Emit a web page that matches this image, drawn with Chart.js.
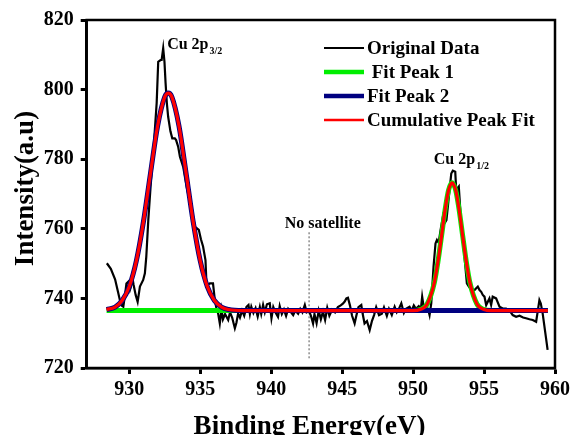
<!DOCTYPE html>
<html>
<head>
<meta charset="utf-8">
<script src="https://cdn.jsdelivr.net/npm/chart.js@4.4.1/dist/chart.umd.min.js"></script>
<style>
  html, body { margin: 0; padding: 0; background: #fff; }
  #wrap { width: 574px; height: 435px; position: relative; }
</style>
</head>
<body>
<div id="wrap"><canvas id="xps"></canvas></div>
<script>
// tick labels
var xTicks = [930, 935, 940, 945, 950, 955, 960];
var yTicks = [720, 740, 760, 780, 800, 820];

// original data (binding energy / intensity)
var rawEnergy = [928.42, 928.7, 929.0, 929.2, 929.34, 929.5, 929.58, 929.7, 929.8, 929.93, 930.05, 930.12, 930.21, 930.3, 930.45, 930.59, 930.75, 930.98, 931.1, 931.2, 931.34, 931.5, 931.69, 931.93, 932.04, 932.2, 932.28, 932.39, 932.48, 932.56, 932.65, 932.74, 932.9, 933.03, 933.21, 933.3, 933.45, 933.57, 933.8, 934.04, 934.2, 934.39, 934.5, 934.62, 934.9, 935.05, 935.2, 935.37, 935.44, 935.55, 935.68, 935.9, 936.03, 936.15, 936.26, 936.38, 936.5, 936.6, 936.75, 936.97, 937.1, 937.25, 937.44, 937.55, 937.67, 937.8, 937.95, 938.1, 938.26, 938.4, 938.5, 938.6, 938.75, 938.9, 939.05, 939.2, 939.3, 939.43, 939.55, 939.7, 939.9, 940.02, 940.15, 940.3, 940.48, 940.6, 940.75, 940.9, 941.05, 941.2, 941.4, 941.55, 941.7, 941.9, 942.05, 942.2, 942.37, 942.5, 942.67, 942.8, 942.95, 943.05, 943.2, 943.35, 943.5, 943.65, 943.8, 943.95, 944.1, 944.3, 944.5, 944.7, 944.9, 945.05, 945.18, 945.3, 945.41, 945.55, 945.7, 945.88, 946.0, 946.15, 946.35, 946.45, 946.58, 946.75, 946.94, 947.1, 947.25, 947.4, 947.6, 947.8, 947.95, 948.15, 948.3, 948.5, 948.7, 948.85, 949.0, 949.17, 949.35, 949.5, 949.75, 949.9, 950.05, 950.2, 950.4, 950.55, 950.64, 950.75, 950.9, 951.05, 951.16, 951.28, 951.44, 951.58, 951.68, 951.8, 951.95, 952.1, 952.22, 952.35, 952.45, 952.57, 952.69, 952.8, 952.97, 953.04, 953.22, 953.39, 953.62, 953.79, 953.93, 954.1, 954.33, 954.56, 954.68, 954.8, 954.91, 955.03, 955.15, 955.38, 955.5, 955.61, 955.85, 956.09, 956.32, 956.55, 956.8, 957.02, 957.26, 957.5, 957.75, 957.96, 958.2, 958.43, 958.67, 958.78, 958.9, 959.0, 959.13, 959.37, 959.48];
var rawIntensity = [750.1, 748.5, 745.5, 742.0, 739.5, 737.8, 737.6, 741.0, 744.3, 744.8, 742.5, 743.4, 746.2, 744.0, 741.0, 739.0, 743.4, 745.3, 747.2, 752.0, 762.5, 772.0, 781.7, 796.1, 808.0, 808.5, 808.5, 811.9, 808.0, 801.8, 796.0, 792.2, 788.0, 786.0, 786.0, 785.5, 783.5, 780.7, 777.8, 772.1, 769.0, 766.4, 763.5, 760.6, 759.7, 757.0, 754.9, 751.0, 744.3, 744.0, 744.3, 744.3, 739.5, 737.0, 735.7, 732.8, 736.7, 734.0, 735.5, 733.8, 736.0, 734.5, 731.4, 733.0, 735.7, 734.5, 736.5, 735.0, 737.6, 738.1, 735.5, 737.6, 735.8, 737.2, 734.8, 737.5, 735.5, 738.1, 736.0, 738.3, 738.6, 734.3, 737.5, 736.0, 734.7, 737.8, 735.5, 736.8, 735.0, 737.0, 736.0, 735.2, 736.5, 735.6, 737.0, 736.0, 738.1, 736.0, 736.4, 735.0, 732.8, 735.5, 732.9, 736.5, 734.0, 736.2, 733.8, 737.3, 735.0, 736.8, 736.0, 737.5, 738.0, 738.5, 739.1, 740.0, 740.2, 738.0, 735.0, 732.8, 735.0, 737.5, 738.1, 735.5, 732.8, 733.5, 730.9, 733.5, 735.2, 737.5, 735.2, 735.6, 737.4, 735.0, 737.0, 735.2, 737.6, 736.0, 737.0, 738.6, 735.8, 737.0, 737.6, 736.5, 738.0, 737.0, 737.8, 737.0, 740.5, 737.5, 737.8, 737.0, 735.2, 738.6, 749.1, 755.8, 756.8, 756.0, 760.0, 763.5, 761.6, 762.5, 766.4, 771.1, 775.9, 776.7, 776.4, 771.1, 772.1, 761.6, 752.0, 744.3, 743.4, 742.5, 742.4, 743.4, 742.4, 741.9, 741.0, 740.5, 738.1, 740.0, 738.1, 740.5, 740.0, 737.6, 737.1, 737.1, 736.5, 735.2, 734.7, 735.0, 734.5, 734.3, 734.0, 733.8, 733.3, 736.2, 739.5, 738.5, 735.7, 728.5, 725.2];

var fitEnergy = [928.4, 929, 929.5, 930, 930.5, 931, 931.5, 932, 932.5, 932.75, 933, 933.5, 934, 934.5, 935, 935.5, 936, 936.5, 937, 938, 940, 945, 950, 950.5, 951, 951.5, 951.75, 952, 952.25, 952.5, 952.75, 953, 953.25, 953.5, 953.75, 954, 954.5, 955, 955.5, 957, 959.5];
var fitPeak1 = [736.5, 736.5, 736.5, 736.5, 736.5, 736.5, 736.5, 736.5, 736.5, 736.5, 736.5, 736.5, 736.5, 736.5, 736.5, 736.5, 736.5, 736.5, 736.5, 736.5, 736.5, 736.5, 736.5, 736.8, 738.4, 744.6, 750.5, 757.8, 765.3, 771.1, 773.2, 771.1, 765.3, 757.8, 750.5, 744.6, 738.4, 736.8, 736.5, 736.5, 736.5];
var fitPeak2 = [736.8, 737.5, 739.4, 743.4, 750.8, 762.1, 776.1, 789.6, 797.9, 799.0, 797.9, 789.6, 776.1, 762.1, 750.8, 743.4, 739.4, 737.5, 736.8, 736.5, 736.5, 736.5, 736.5, 736.5, 736.5, 736.5, 736.5, 736.5, 736.5, 736.5, 736.5, 736.5, 736.5, 736.5, 736.5, 736.5, 736.5, 736.5, 736.5, 736.5, 736.5];
var cumulativeFit = [736.8, 737.5, 739.4, 743.4, 750.8, 762.1, 776.1, 789.6, 797.9, 799.0, 797.9, 789.6, 776.1, 762.1, 750.8, 743.4, 739.4, 737.5, 736.8, 736.5, 736.5, 736.5, 736.5, 736.8, 738.4, 744.6, 750.5, 757.8, 765.3, 771.1, 773.2, 771.1, 765.3, 757.8, 750.5, 744.6, 738.4, 736.8, 736.5, 736.5, 736.5];

// "No satellite" marker line
var satEnergy = [942.67, 942.67];
var satIntensity = [759, 722.6];

var serif = "'Liberation Serif', 'Times New Roman', serif";

function pts(xs, ys) {
    var out = [];
    for (var i = 0; i < xs.length; i++) out.push({ x: xs[i], y: ys[i] });
    return out;
}

// frame, legend, annotations and axis titles
var extras = {
    id: 'extras',
    afterDatasetsDraw: function(chart) {
        var ctx = chart.ctx;
        var xs = chart.scales.x, ys = chart.scales.y;
        ctx.save();
        ctx.fillStyle = '#000';
        ctx.textBaseline = 'alphabetic';
        ctx.textAlign = 'left';

        // peak labels with subscripts
        var labs = [['Cu 2p', '3/2', 932.67, 811.6], ['Cu 2p', '1/2', 951.46, 778.5]];
        labs.forEach(function(l) {
            var px = xs.getPixelForValue(l[2]), py = ys.getPixelForValue(l[3]);
            ctx.font = 'bold 16px ' + serif;
            ctx.fillText(l[0], px, py);
            var w = ctx.measureText(l[0]).width;
            ctx.font = 'bold 10px ' + serif;
            ctx.fillText(l[1], px + w + 1, py + 5);
        });
        ctx.font = 'bold 16px ' + serif;
        ctx.fillText('No satellite', xs.getPixelForValue(940.96), ys.getPixelForValue(760.3));

        // legend
        var ds = chart.data.datasets;
        ctx.font = 'bold 19px ' + serif;
        for (var i = 0; i < 4; i++) {
            var y = 48 + i * 24;
            ctx.strokeStyle = ds[i].borderColor;
            ctx.lineWidth = ds[i].legendWidth;
            ctx.beginPath();
            ctx.moveTo(324, y);
            ctx.lineTo(364, y);
            ctx.stroke();
            ctx.fillText(ds[i].label, 367, y + 6);
        }

        // box round the plot
        var a = chart.chartArea;
        ctx.strokeStyle = '#000';
        ctx.lineWidth = 2.5;
        ctx.strokeRect(a.left, a.top, a.right - a.left, a.bottom - a.top);

        // axis titles
        ctx.font = 'bold 27px ' + serif;
        ctx.textAlign = 'center';
        ctx.fillText('Binding Energy(eV)', 309.5, 434);
        ctx.translate(33, 188.5);
        ctx.rotate(-Math.PI / 2);
        ctx.fillText('Intensity(a.u)', 0, 0);
        ctx.restore();
    }
};

var tickFont = { family: serif, size: 20, weight: 'bold' };

new Chart(document.getElementById('xps'), {
    type: 'line',
    data: {
        datasets: [{
            label: 'Original Data',
            data: pts(rawEnergy, rawIntensity),
            borderColor: '#000000',
            borderWidth: 2.2,
            legendWidth: 2,
            order: 4
        }, {
            label: ' Fit Peak 1',
            data: pts(fitEnergy, fitPeak1),
            borderColor: '#00ee00',
            borderWidth: 5,
            legendWidth: 4.5,
            cubicInterpolationMode: 'monotone',
            order: 3
        }, {
            label: 'Fit Peak 2',
            data: pts(fitEnergy, fitPeak2),
            borderColor: '#000080',
            borderWidth: 5,
            legendWidth: 4.5,
            cubicInterpolationMode: 'monotone',
            order: 2
        }, {
            label: 'Cumulative Peak Fit',
            data: pts(fitEnergy, cumulativeFit),
            borderColor: '#ff0000',
            borderWidth: 3.2,
            legendWidth: 2.5,
            cubicInterpolationMode: 'monotone',
            order: 1
        }, {
            label: 'satellite',
            data: pts(satEnergy, satIntensity),
            borderColor: '#555555',
            borderWidth: 1,
            borderDash: [2, 2],
            order: 5
        }]
    },
    options: {
        responsive: true,
        maintainAspectRatio: false,
        animation: false,
        layout: { padding: { top: 20, right: 17.6, left: 0, bottom: 0 } },
        elements: { point: { radius: 0 }, line: { tension: 0 } },
        plugins: { legend: { display: false }, tooltip: { enabled: false } },
        scales: {
            x: {
                type: 'linear',
                min: 927,
                max: 960,
                afterBuildTicks: function(s) { s.ticks = xTicks.map(function(v) { return { value: v }; }); },
                afterFit: function(s) { s.height = 67; },
                border: { display: true, color: '#000', width: 2.5 },
                grid: { display: true, drawOnChartArea: false, drawTicks: true, tickLength: 6, tickWidth: 3, tickColor: '#000' },
                ticks: { color: '#000', font: tickFont, padding: 4, maxRotation: 0 }
            },
            y: {
                min: 720,
                max: 820,
                afterBuildTicks: function(s) { s.ticks = yTicks.map(function(v) { return { value: v }; }); },
                afterFit: function(s) { s.width = 86.7; },
                border: { display: true, color: '#000', width: 2.5 },
                grid: { display: true, drawOnChartArea: false, drawTicks: true, tickLength: 6, tickWidth: 3, tickColor: '#000' },
                ticks: { color: '#000', font: tickFont, padding: 7 }
            }
        }
    },
    plugins: [extras]
});
</script>
</body>
</html>
